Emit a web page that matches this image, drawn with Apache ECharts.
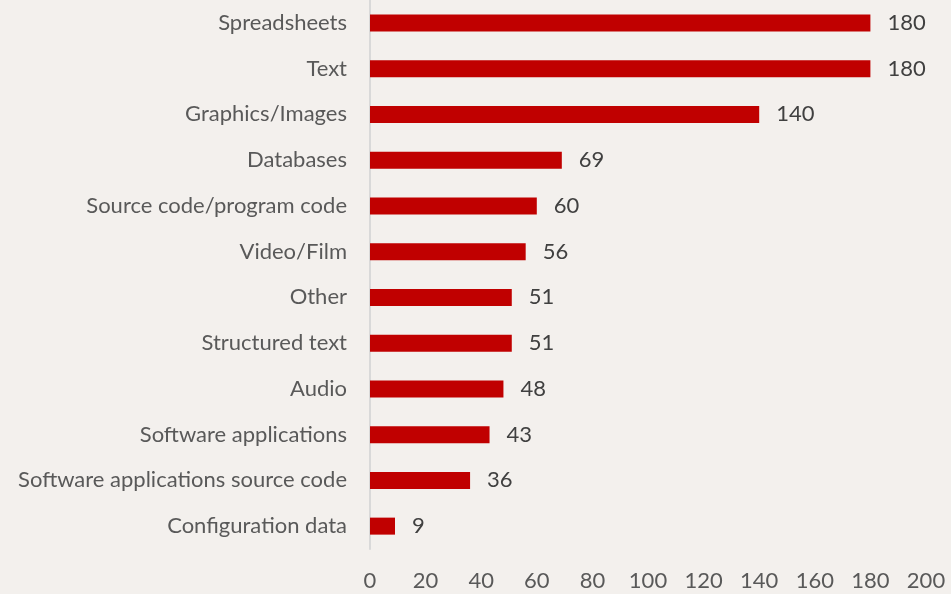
<!DOCTYPE html>
<html><head><meta charset="utf-8">
<script src="https://cdn.jsdelivr.net/npm/echarts@6/dist/echarts.min.js"></script>
<style>html,body{margin:0;padding:0;background:#f3f0ed;}#c{width:951px;height:594px;}</style>
</head><body><div id="c"></div>
<script>
const categories = ["Spreadsheets","Text","Graphics/Images","Databases","Source code/program code","Video/Film","Other","Structured text","Audio","Software applications","Software applications source code","Configuration data"];
const values = [180,180,140,69,60,56,51,51,48,43,36,9];
const xTicks = [0,20,40,60,80,100,120,140,160,180,200];
const chart = echarts.init(document.getElementById('c'));
const font = 'Lato';
chart.setOption({
  backgroundColor: '#f3f0ed',
  animation: false,
  grid: {left: 370, right: 25, top: -3, bottom: 45},
  xAxis: {type:'value', min: xTicks[0], max: xTicks[xTicks.length-1], interval: 20,
    axisLine:{show:false}, axisTick:{show:false}, splitLine:{show:false},
    axisLabel:{color:'#595959', fontFamily:font, fontSize:22, margin:21}},
  yAxis: {type:'category', data: categories, inverse:true,
    axisLine:{show:true, lineStyle:{color:'#d9d9d9', width:2}}, axisTick:{show:false},
    axisLabel:{color:'#595959', fontFamily:font, fontSize:22, margin:23}},
  series: [{type:'bar', data: values, barWidth:17, itemStyle:{color:'#c00000'},
    label:{show:true, position:'right', distance:17, color:'#404040', fontFamily:font, fontSize:22}}]
});
</script></body></html>
